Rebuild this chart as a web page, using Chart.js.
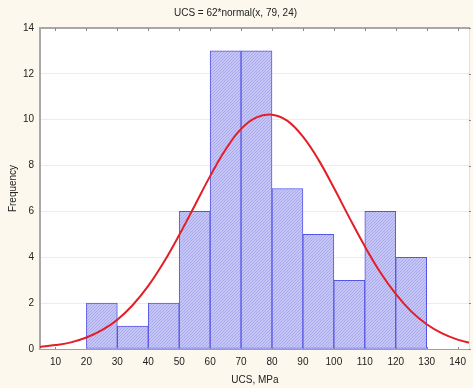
<!DOCTYPE html>
<html>
<head>
<meta charset="utf-8">
<script src="https://cdn.jsdelivr.net/npm/chart.js@4.4.1/dist/chart.umd.min.js"></script>
<style>
  html, body { margin: 0; padding: 0; background: #fcf8ed; }
  #wrap { width: 473px; height: 388px; }
</style>
</head>
<body>
<div id="wrap"><canvas id="histChart" width="473" height="388"></canvas></div>
<script>
// histogram bins (centres) and counts
const binCenters = [25, 35, 45, 55, 65, 75, 85, 95, 105, 115, 125];
const binCounts = [2, 1, 2, 6, 13, 13, 7, 5, 3, 6, 4];

// fitted normal curve
const curveX = [5, 10, 15, 20, 25, 30, 35, 40, 45, 50, 55, 60, 65, 70, 75,
                80, 85, 90, 95, 100, 105, 110, 115, 120, 125, 130, 135, 140, 145];
const curveY = [0.09, 0.17, 0.29, 0.5, 0.82, 1.28, 1.92, 2.75, 3.78, 4.97, 6.25, 7.54, 8.7, 9.6, 10.1,
                10.22, 9.95, 9.26, 8.26, 7.03, 5.73, 4.48, 3.35, 2.4, 1.64, 1.08, 0.68, 0.41, 0.23];

const xTicks = [10, 20, 30, 40, 50, 60, 70, 80, 90, 100, 110, 120, 130, 140];
const yTicks = [0, 2, 4, 6, 8, 10, 12, 14];

const cream = '#fcf8ed';
const textColor = '#222222';
const fontFamily = "'Liberation Sans', Arial, sans-serif";

// fine diagonal hatch fill like the original
function makeHatch() {
    const c = document.createElement('canvas');
    c.width = 3; c.height = 3;
    const g = c.getContext('2d');
    g.fillStyle = '#c6c6f6';
    g.fillRect(0, 0, 3, 3);
    g.fillStyle = '#a9a9ee';
    g.fillRect(2, 0, 1, 1);
    g.fillRect(1, 1, 1, 1);
    g.fillRect(0, 2, 1, 1);
    return g.createPattern(c, 'repeat');
}

const frame = {
    id: 'frame',
    beforeDraw(chart) {
        const { ctx, chartArea: a } = chart;
        ctx.save();
        ctx.fillStyle = cream;
        ctx.fillRect(0, 0, chart.width, chart.height);
        ctx.fillStyle = '#ffffff';
        ctx.fillRect(a.left, a.top, a.right - a.left, a.bottom - a.top);
        ctx.restore();
    },
    afterDraw(chart) {
        const { ctx, chartArea: a } = chart;
        const xs = chart.scales.x, ys = chart.scales.y;
        ctx.save();
        // top and right frame lines
        ctx.strokeStyle = '#a8a8a8';
        ctx.lineWidth = 2;
        ctx.beginPath();
        ctx.moveTo(a.left, a.top); ctx.lineTo(a.right, a.top);
        ctx.stroke();
        ctx.strokeStyle = '#e0e0e0';
        ctx.lineWidth = 1;
        ctx.beginPath();
        ctx.moveTo(a.right - 0.5, a.top); ctx.lineTo(a.right - 0.5, a.bottom);
        ctx.stroke();
        // small tick marks on top and right edges
        ctx.strokeStyle = '#888888';
        ctx.lineWidth = 1;
        ctx.beginPath();
        xTicks.forEach(v => {
            const px = Math.round(xs.getPixelForValue(v)) + 0.5;
            ctx.moveTo(px, a.top); ctx.lineTo(px, a.top + 3);
            ctx.moveTo(px, a.bottom); ctx.lineTo(px, a.bottom - 2);
        });
        yTicks.forEach(v => {
            const py = Math.round(ys.getPixelForValue(v)) + 0.5;
            ctx.moveTo(a.right - 1, py); ctx.lineTo(a.right + 1, py);
        });
        ctx.stroke();
        ctx.restore();
    }
};

const ctx = document.getElementById('histChart').getContext('2d');

new Chart(ctx, {
    type: 'bar',
    data: {
        datasets: [
            {
                type: 'line',
                label: 'Normal fit',
                data: curveX.map((x, i) => ({ x: x, y: curveY[i] })),
                borderColor: '#e41e26',
                borderWidth: 2,
                pointRadius: 0,
                tension: 0.4,
                fill: false,
                order: 0
            },
            {
                type: 'bar',
                label: 'Frequency',
                data: binCenters.map((x, i) => ({ x: x, y: binCounts[i] })),
                backgroundColor: makeHatch(),
                borderColor: '#5656e6',
                borderWidth: 1,
                borderSkipped: false,
                barPercentage: 1,
                categoryPercentage: 1,
                order: 1
            }
        ]
    },
    options: {
        responsive: false,
        animation: false,
        layout: { padding: { left: 0, right: 2, top: 0, bottom: 0 } },
        plugins: {
            legend: { display: false },
            tooltip: { enabled: false },
            title: {
                display: true,
                text: 'UCS = 62*normal(x, 79, 24)',
                color: textColor,
                font: { family: fontFamily, size: 10, weight: 'normal' },
                padding: { top: 7, bottom: 9 }
            }
        },
        scales: {
            x: {
                type: 'linear',
                offset: false,
                min: 5,
                max: 144,
                afterFit(scale) { scale.height = 39; },
                afterBuildTicks(scale) { scale.ticks = xTicks.map(v => ({ value: v })); },
                grid: { display: false, drawTicks: false, offset: false },
                border: { display: true, color: '#a0a0a0', width: 1 },
                ticks: {
                    color: textColor,
                    padding: 7,
                    maxRotation: 0,
                    autoSkip: false,
                    font: { family: fontFamily, size: 10 }
                },
                title: {
                    display: true,
                    text: 'UCS, MPa',
                    color: textColor,
                    font: { family: fontFamily, size: 10 },
                    padding: { top: 0, bottom: 2 }
                }
            },
            y: {
                min: 0,
                max: 14,
                afterFit(scale) { scale.width = 40; },
                afterBuildTicks(scale) { scale.ticks = yTicks.map(v => ({ value: v })); },
                grid: { color: '#ececec', drawTicks: false },
                border: { display: true, color: '#a8a8a8', width: 2 },
                ticks: {
                    color: textColor,
                    padding: 6,
                    font: { family: fontFamily, size: 10 }
                },
                title: {
                    display: true,
                    text: 'Frequency',
                    color: textColor,
                    font: { family: fontFamily, size: 10 },
                    padding: { top: 7, bottom: 0 }
                }
            }
        }
    },
    plugins: [frame]
});
</script>
</body>
</html>
